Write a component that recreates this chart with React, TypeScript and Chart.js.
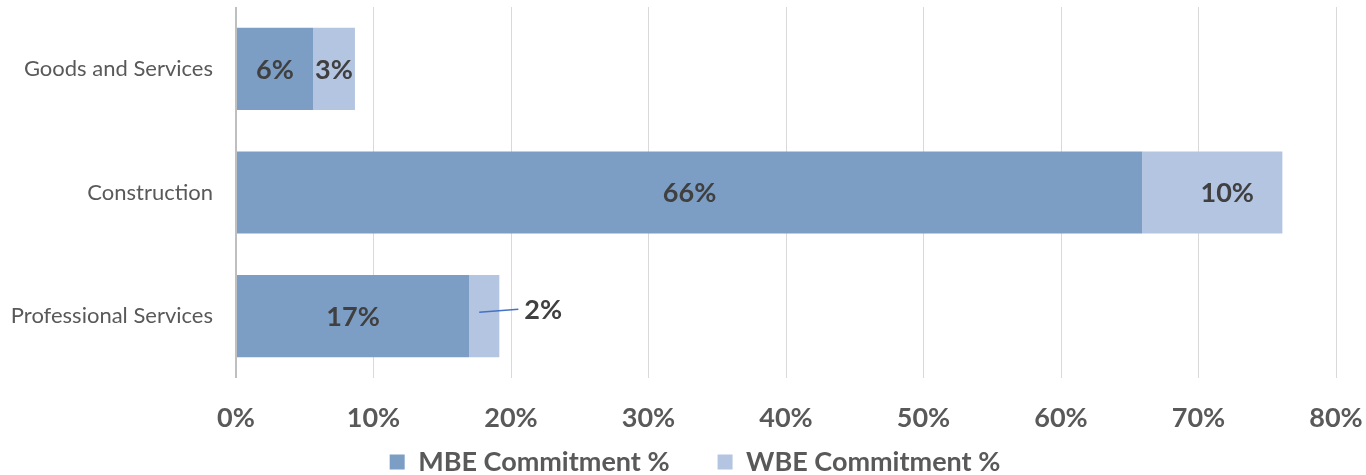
import React, { useEffect, useRef } from 'react';
import { Chart, registerables } from 'chart.js';

Chart.register(...registerables);

const categories = ['Goods and Services', 'Construction', 'Professional Services'];
const seriesNames = ['MBE Commitment %', 'WBE Commitment %'];
const mbeValues = [5.6, 65.9, 16.95];
const wbeValues = [3.05, 10.2, 2.2];
const xTickValues = [0, 10, 20, 30, 40, 50, 60, 70, 80];
// which labels sit outside their bar with a leader line: [datasetIndex, index]
const calloutLabels = [[1, 2]];

const FONT = 'Lato, "Open Sans", sans-serif';
const TEXT_GREY = '#595959';
const LABEL_DARK = '#404040';
const MBE_COLOR = '#7C9DC4';
const WBE_COLOR = '#B4C5E2';

const BIG = 27;
const LEGEND_PAD = 48;
const LEGEND_H = 30;
const PLOT_BOTTOM = 378;
const LEGEND_CENTER_Y = 462;
const LEGEND_SHIFT_X = 27;
// horizontal nudge (px) of in-bar labels, per [datasetIndex][index]
const LABEL_NUDGE = [
  [0, 0, 0],
  [0, 15, 0],
];

const barLabelPlugin = {
  id: 'barLabels',
  afterDatasetsDraw(chart: any) {
    const ctx = chart.ctx;
    ctx.save();
    ctx.font = `bold ${BIG}px ${FONT}`;
    ctx.fillStyle = LABEL_DARK;
    ctx.textBaseline = 'middle';
    chart.data.datasets.forEach((ds: any, di: number) => {
      const meta = chart.getDatasetMeta(di);
      meta.data.forEach((bar: any, i: number) => {
        const { x, y, base } = bar.getProps(['x', 'y', 'base'], true);
        const text = Math.round(ds.data[i]) + '%';
        const isCallout = calloutLabels.some(([d, k]) => d === di && k === i);
        if (isCallout) {
          const cx = (x + base) / 2;
          ctx.save();
          ctx.strokeStyle = '#4472C4';
          ctx.lineWidth = 1.5;
          ctx.beginPath();
          ctx.moveTo(cx - 5, y - 4);
          ctx.lineTo(x + 19, y - 7);
          ctx.stroke();
          ctx.restore();
          ctx.textAlign = 'left';
          ctx.fillText(text, x + 25, y - 6);
        } else {
          ctx.textAlign = 'center';
          ctx.fillText(text, (x + base) / 2 + LABEL_NUDGE[di][i], y + 1);
        }
      });
    });
    ctx.restore();
  },
};

const legendPlacePlugin = {
  id: 'legendPlace',
  afterLayout(chart: any) {
    const lg = chart.legend;
    if (!lg) return;
    const top = LEGEND_CENTER_Y - LEGEND_PAD - BIG / 2;
    lg.top = top;
    lg.bottom = chart.height;
    lg.height = chart.height - top;
    lg.left = lg.left + LEGEND_SHIFT_X;
    lg.right = lg.right + LEGEND_SHIFT_X;
  },
};

export default function App() {
  const canvasRef = useRef<HTMLCanvasElement | null>(null);

  useEffect(() => {
    document.body.style.margin = '0';
    const canvas = canvasRef.current;
    if (!canvas) return;
    const chart = new Chart(canvas, {
      type: 'bar',
      data: {
        labels: categories,
        datasets: [
          {
            label: seriesNames[0],
            data: mbeValues,
            backgroundColor: MBE_COLOR,
            borderWidth: 0,
            categoryPercentage: 1,
            barPercentage: 0.665,
          },
          {
            label: seriesNames[1],
            data: wbeValues,
            backgroundColor: WBE_COLOR,
            borderWidth: 0,
            categoryPercentage: 1,
            barPercentage: 0.665,
          },
        ],
      },
      options: {
        indexAxis: 'y',
        responsive: false,
        maintainAspectRatio: false,
        animation: false,
        layout: { padding: { top: 7, left: 0, right: 30, bottom: 0 } },
        scales: {
          x: {
            stacked: true,
            min: 0,
            max: 80,
            afterBuildTicks: (scale: any) => {
              scale.ticks = xTickValues.map((v) => ({ value: v }));
            },
            afterFit: (scale: any) => {
              scale.height = scale.chart.height - PLOT_BOTTOM - LEGEND_H;
              scale.paddingLeft = 0;
              scale.paddingRight = 0;
            },
            ticks: {
              callback: (v: any) => v + '%',
              color: TEXT_GREY,
              font: { family: FONT, size: BIG, weight: 'bold' },
              padding: 24,
              maxRotation: 0,
            },
            grid: {
              drawTicks: false,
              color: (c: any) => (c.tick && c.tick.value === 0 ? '#BFBFBF' : '#D9D9D9'),
              lineWidth: (c: any) => (c.tick && c.tick.value === 0 ? 2 : 1),
            },
            border: { display: false },
          },
          y: {
            stacked: true,
            afterFit: (scale: any) => {
              scale.width = 236;
              scale.paddingTop = 0;
              scale.paddingBottom = 0;
            },
            ticks: {
              color: TEXT_GREY,
              font: { family: FONT, size: 22 },
              padding: 23,
            },
            grid: { display: false, drawTicks: false },
            border: { display: false },
          },
        },
        plugins: {
          legend: {
            position: 'bottom',
            maxHeight: LEGEND_H,
            labels: {
              boxWidth: 15,
              boxHeight: 15,
              padding: LEGEND_PAD,
              color: TEXT_GREY,
              font: { family: FONT, size: BIG, weight: 'bold' },
            },
          },
          tooltip: { enabled: false },
        },
      },
      plugins: [barLabelPlugin, legendPlacePlugin],
    } as any);
    return () => chart.destroy();
  }, []);

  return (
    <div style={{ width: 1366, height: 475 }}>
      <canvas ref={canvasRef} width={1366} height={475} style={{ display: 'block' }} />
    </div>
  );
}
